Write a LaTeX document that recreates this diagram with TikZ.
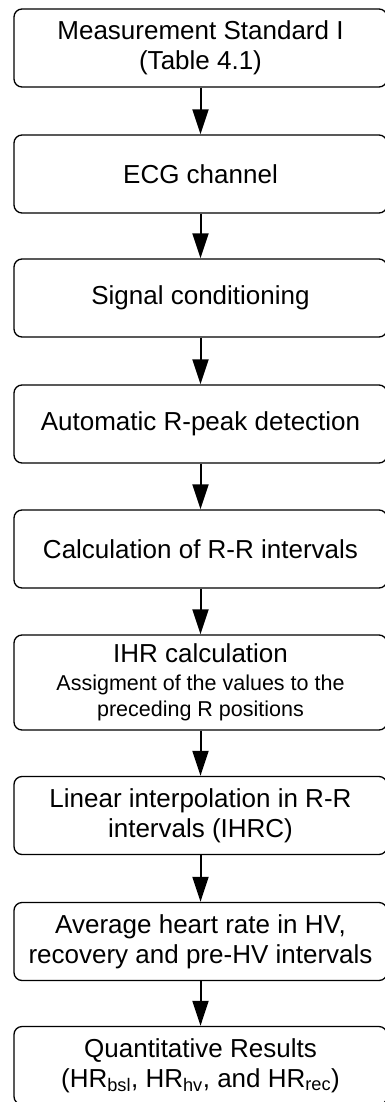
\documentclass[tikz,border=0pt]{standalone}
\usepackage{fontspec}
\setmainfont{Liberation Sans}
\usetikzlibrary{arrows.meta}
\newcommand{\subfont}{\fontsize{21.5}{25}\selectfont}

\begin{document}
\begin{tikzpicture}[x=1pt,y=-1pt,
every node/.style={anchor=center,
line width=1.3pt,
minimum width=373pt,
minimum height=78pt,
inner sep=0pt,
rounded corners=8pt,
align=center,
font=\fontsize{26}{30}\selectfont,
draw
},
high/.style={%
minimum height=95pt,
},
flow/.style={%
-{Triangle[length=25pt,width=16pt]},line width=2pt
}]
\useasboundingbox (0,0) rectangle (384,1102);
\node[]at(200.5,48)(std){Measurement Standard I\\(Table 4.1)};
\node[]at(200.5,174)(ecg){ECG channel};
\node[]at(200.5,298)(cond){Signal conditioning};
\node[]at(200.5,424)(peak){Automatic R-peak detection};
\node[]at(200.5,549)(rr){Calculation of R-R intervals};
\node[high]at(200.5,682.5)(ihr){IHR calculation\\[-2pt]{\subfont Assigment of the values to the}\\[-4pt]{\subfont preceding R positions}};
\node[]at(200.5,815.5)(ihrc){Linear interpolation in R-R\\intervals (IHRC)};
\node[]at(200.5,941.5)(avg){Average heart rate in HV,\\recovery and pre-HV intervals};
\node[]at(200.5,1065.5)(res){Quantitative Results\\(HR\textsubscript{bsl}, HR\textsubscript{hv}, and HR\textsubscript{rec})};
\foreach \a/\b in {std/ecg,ecg/cond,cond/peak,peak/rr,rr/ihr,ihr/ihrc,ihrc/avg,avg/res}
  \draw [flow] (\a)--(\b);
\end{tikzpicture}
\end{document}
